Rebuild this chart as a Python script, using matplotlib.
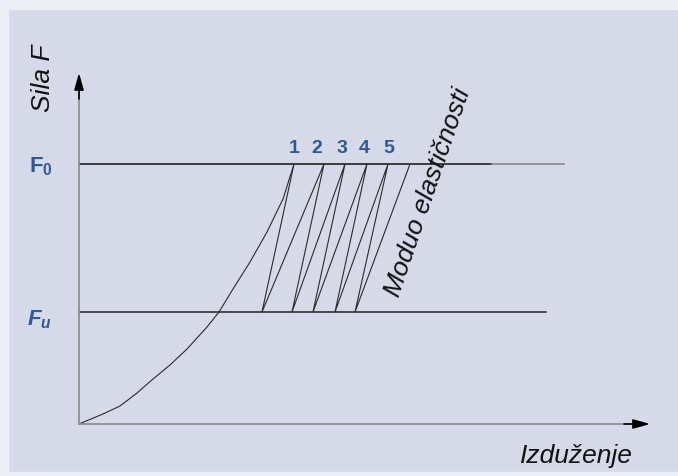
import matplotlib.pyplot as plt
from matplotlib.patches import Rectangle

# Data (units: 1 = 100 px of the original sketch, origin at the axes corner)
F0 = 2.60
Fu = 1.12
peak_labels = ["1", "2", "3", "4", "5"]
label_x = [2.15, 2.38, 2.63, 2.85, 3.10]

# loading curve from origin up to first peak
curve_x = [0.0, 0.24, 0.41, 0.58, 0.74, 0.91, 1.08, 1.28, 1.40, 1.54, 1.71, 1.88, 2.04, 2.15]
curve_y = [0.0, 0.10, 0.18, 0.31, 0.45, 0.59, 0.75, 0.97, 1.12, 1.35, 1.62, 1.92, 2.25, 2.60]

# cycle turning points
peaks_x = [2.15, 2.45, 2.66, 2.88, 3.09]
bottoms_x = [1.83, 2.13, 2.34, 2.56, 2.76]
modulus_end_x = 3.31

bg = "#d6d9e8"
ink = "#2b2b2b"
blue = "#2c5a96"

plt.rcParams["font.family"] = ["Liberation Sans", "DejaVu Sans"]
plt.rcParams["mathtext.fontset"] = "custom"
plt.rcParams["mathtext.bf"] = "Liberation Sans:bold"
plt.rcParams["mathtext.bfit"] = "Liberation Sans:italic:bold"

fig = plt.figure(figsize=(6.78, 4.77), dpi=100)
fig.patch.set_facecolor(bg)

# light strips on the edges of the scanned picture
W, H = 678, 477
for r in [(0, 1 - 10 / H, 1, 10 / H), (0, 0, 8 / W, 1), (0, 0, 1, 4 / H)]:
    fig.patches.append(Rectangle(r[:2], r[2], r[3], transform=fig.transFigure,
                                 color="#eeeff5", zorder=0))

ax = fig.add_axes([79 / W, (H - 425) / H, 571 / W, 351 / H])
ax.set_xlim(0, 5.71)
ax.set_ylim(0, 3.51)
ax.set_facecolor("none")
for s in ax.spines.values():
    s.set_visible(False)
ax.set_xticks([])
ax.set_yticks([])

# axes with arrows
arrow = dict(arrowstyle="-|>,head_length=1.0,head_width=0.28", color="#8a8a8a",
             lw=1.2, shrinkA=0, shrinkB=0)
head = dict(arrowstyle="-|>,head_length=1.0,head_width=0.28", color="black",
            lw=1.2, shrinkA=0, shrinkB=0)
ax.annotate("", xy=(5.71, 0), xytext=(0, 0), arrowprops=arrow, annotation_clip=False)
ax.annotate("", xy=(0, 3.51), xytext=(0, 0), arrowprops=arrow, annotation_clip=False)
ax.annotate("", xy=(5.71, 0), xytext=(5.45, 0), arrowprops=head, annotation_clip=False)
ax.annotate("", xy=(0, 3.51), xytext=(0, 3.25), arrowprops=head, annotation_clip=False)

# F0 and Fu levels
ax.plot([0, 4.13], [F0, F0], color="#222222", lw=1.2)
ax.plot([4.13, 4.85], [F0, F0], color="#8c8c8c", lw=1.2)
ax.plot([0, 4.67], [Fu, Fu], color="#222222", lw=1.1)

# loading curve
ax.plot(curve_x, curve_y, color=ink, lw=0.8)

# unloading / reloading cycles
path_x, path_y = [peaks_x[0]], [F0]
for i, b in enumerate(bottoms_x):
    path_x.append(b)
    path_y.append(Fu)
    top = peaks_x[i + 1] if i + 1 < len(peaks_x) else modulus_end_x
    path_x.append(top)
    path_y.append(F0)
ax.plot(path_x, path_y, color=ink, lw=0.8)

# cycle numbers
narrow = ["Liberation Sans Narrow", "Liberation Sans"]
for lab, px in zip(peak_labels, label_x):
    ax.text(px, F0 + 0.16, lab, color=blue, fontsize=14, fontweight="bold",
            ha="center", va="center", family=narrow)

# level labels
ax.text(-0.38, F0 - 0.02, r"$\mathbf{F_0}$", color=blue, fontsize=16,
        ha="center", va="center")
ax.text(-0.39, Fu - 0.07, r"$\mathbfit{F_u}$", color=blue, fontsize=16,
        ha="center", va="center")

# axis titles
ax.text(-0.36, 3.47, "Sila F", fontsize=19, style="italic", rotation=90,
        ha="center", va="center", color="#111111")
ax.text(4.97, -0.31, "Izduženje", fontsize=19, style="italic",
        ha="center", va="center", color="#111111")
ax.text(3.49, 2.33, "Moduo elastičnosti", fontsize=19, style="italic",
        rotation=71, rotation_mode="anchor", ha="center", va="center", color="#111111")

fig.savefig("out.png", dpi=100, facecolor=fig.get_facecolor())
